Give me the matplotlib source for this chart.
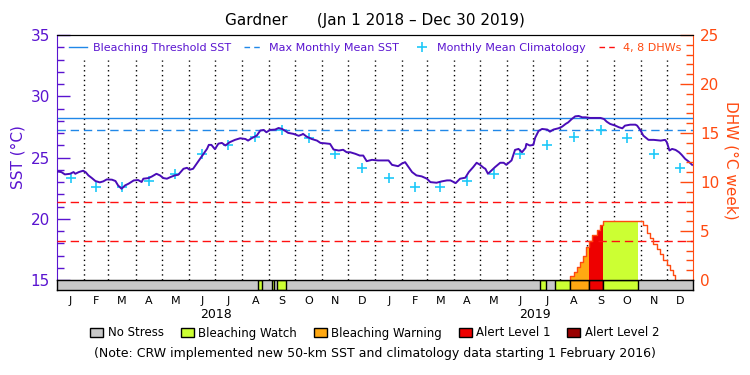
import numpy as np
import matplotlib
matplotlib.use('Agg')
import matplotlib.pyplot as plt
from matplotlib.lines import Line2D
from matplotlib.patches import Patch
from matplotlib.ticker import MultipleLocator

# ---------------- data (days since Jan 1 2018) ----------------
sst_day = [0, 5, 9, 15, 19, 21, 25, 30, 33, 36, 40, 44, 49, 53, 57, 63, 67, 70, 74, 78,
           82, 88, 93, 97, 99, 105, 109, 114, 118, 122, 126, 130, 135, 139, 145, 149, 152, 156, 160, 164,
           168, 172, 174, 177, 181, 185, 189, 193, 198, 204, 210, 216, 219, 223, 229, 233, 237, 240, 244, 250,
           254, 258, 261, 265, 271, 277, 281, 282, 286, 292, 298, 302, 307, 313, 317, 323, 328, 332, 336, 342,
           347, 351, 355, 361, 368, 380, 384, 391, 395, 399, 403, 407, 412, 418, 424, 428, 435, 441, 447, 451,
           457, 462, 468, 472, 477, 481, 485, 489, 491, 494, 498, 502, 508, 512, 515, 521, 525, 529, 533, 537,
           538, 542, 546, 548, 552, 556, 562, 565, 569, 575, 579, 583, 586, 590, 594, 598, 602, 606, 611, 617,
           623, 627, 630, 634, 640, 644, 648, 651, 657, 663, 665, 669, 672, 678, 684, 692, 697, 699, 702, 705,
           709, 713, 716, 720, 724, 728]
sst_val = [23.86, 23.81, 23.62, 23.67, 23.81, 23.67, 23.81, 23.92, 23.79, 23.54, 23.32, 23.08, 22.97, 23.05, 23.21, 23.19, 23.08, 22.72, 22.45, 22.72,
           22.86, 23.13, 23.16, 23.00, 23.27, 23.32, 23.46, 23.67, 23.54, 23.32, 23.27, 23.40, 23.54, 23.59, 24.08, 24.16, 24.00, 24.08, 24.49, 24.89,
           25.30, 25.71, 26.03, 26.03, 25.68, 26.13, 26.19, 25.98, 26.25, 26.44, 26.57, 26.51, 26.38, 26.57, 26.79, 27.20, 27.25, 27.06, 27.25, 27.28,
           27.41, 27.33, 27.20, 27.01, 26.93, 26.77, 26.88, 26.93, 26.71, 26.51, 26.38, 26.19, 26.16, 26.11, 25.65, 25.57, 25.63, 25.43, 25.43, 25.30,
           25.16, 25.16, 24.70, 24.81, 24.76, 24.76, 24.40, 24.29, 24.49, 24.62, 24.21, 23.81, 23.54, 23.46, 23.27, 22.99, 22.94, 23.05, 23.13, 23.13,
           22.91, 23.27, 23.35, 23.81, 24.21, 24.57, 24.40, 24.16, 24.08, 23.67, 23.94, 24.21, 24.57, 24.57, 24.40, 24.76, 25.62, 25.70, 25.43, 25.78,
           26.11, 25.98, 26.03, 26.60, 27.17, 27.33, 27.28, 27.11, 27.28, 27.39, 27.52, 27.74, 27.87, 28.14, 28.36, 28.39, 28.28, 28.28, 28.23, 28.23,
           28.23, 28.14, 27.93, 27.74, 27.60, 27.47, 27.38, 27.60, 27.68, 27.68, 27.60, 27.20, 26.79, 26.44, 26.44, 26.38, 26.44, 26.25, 25.57, 25.70,
           25.62, 25.43, 25.22, 24.89, 24.67, 24.40]

clim_month_val = [23.35, 22.60, 22.60, 23.08, 23.62, 25.27, 25.98, 26.68, 27.25, 26.56, 25.30, 24.16]
mmm_sst = 27.25
threshold_sst = 28.25

dhw_day = [588.0, 588.0, 592.6, 595.7, 599.5, 603.2, 606.3, 610.1, 612.9, 618.6, 622.4, 625.5,
           672.0, 675.9, 679.7, 683.5, 687.4, 691.2, 695.0, 698.9, 702.7, 706.5, 708.4]
dhw_val = [0.0, 0.41, 0.85, 1.29, 1.86, 2.44, 3.39, 4.00, 4.57, 5.15, 5.66, 6.03,
           5.59, 4.84, 4.30, 3.72, 3.15, 2.64, 2.03, 1.52, 1.02, 0.51, 0.0]
dhw_levels = [4, 8]

# stress level: 1 watch, 2 warning, 3 alert 1, 4 alert 2
stress_start = [230.7, 246.1, 252.5, 553.6, 570.8, 588.0, 610.1, 626.0]
stress_end = [234.6, 248.7, 262.1, 560.5, 588.0, 610.1, 626.0, 666.3]
stress_level = [1, 1, 1, 1, 1, 2, 3, 1]

stress_names = ['No Stress', 'Bleaching Watch', 'Bleaching Warning', 'Alert Level 1', 'Alert Level 2']
month_letters = ['J', 'F', 'M', 'A', 'M', 'J', 'J', 'A', 'S', 'O', 'N', 'D']
years = ['2018', '2019']

# ---------------- styling ----------------
PURPLE = '#5a14d0'
LINE_PURPLE = '#4a0cb8'
ORANGE = '#ff4a10'
BLUE = '#2088e8'
CYAN = '#1ec8f8'
DHW_RED = '#ff1010'
stress_colors = ['#c8c8c8', '#ccff33', '#ffa812', '#ee0000', '#990000']
plt.rcParams['font.family'] = ['DejaVu Sans']

W, H = 750, 375
fig = plt.figure(figsize=(7.5, 3.75), dpi=100)
ax = fig.add_axes([57 / W, 95 / H, 636 / W, 245 / H])
ax2 = ax.twinx()
axb = fig.add_axes([57 / W, 85 / H, 636 / W, 10 / H])

xmin, xmax = 0, 729
ax.set_xlim(xmin, xmax)
axb.set_xlim(xmin, xmax)
ax.set_ylim(15, 35)
ax2.set_ylim(0, 25)

# month geometry
start = np.datetime64('2018-01-01')
months = np.arange('2018-01', '2020-02', dtype='datetime64[M]')
bounds = (months.astype('datetime64[D]') - start).astype(int)
mids = (bounds[:-1] + bounds[1:]) / 2.0

# dotted month lines
for b in bounds[1:-1]:
    ax.plot([b, b], [15, 33.0], color='black', lw=1.0, ls=(0, (1, 2.5)), zorder=1)

# horizontal reference lines
ax.axhline(threshold_sst, color=BLUE, lw=1.0, zorder=2)
ax.axhline(mmm_sst, color=BLUE, lw=1.0, ls=(0, (6, 3.5)), zorder=2)
for lv in dhw_levels:
    ax2.axhline(lv, color=DHW_RED, lw=1.0, ls=(0, (6, 3.5)), zorder=2)

# climatology
clim_x = mids
clim_y = clim_month_val * 2
ax.plot(clim_x, clim_y, ls='none', marker='+', ms=7, mew=1.2, color=CYAN, zorder=3)

# SST
ax.plot(sst_day, sst_val, color=LINE_PURPLE, lw=1.4, zorder=4)

# DHW fills per stress segment
dd = np.array(dhw_day)
dv = np.array(dhw_val)


def dhw_at(x):
    i = np.searchsorted(dd, x, side='right') - 1
    return 0.0 if i < 0 else dv[i]


for s, e, lvl in zip(stress_start, stress_end, stress_level):
    xs = [s] + [d for d in dhw_day if s < d < e] + [e]
    ys = [dhw_at(x) for x in xs]
    if max(ys) > 0:
        ax2.fill_between(xs, 0, ys, step='post', color=stress_colors[lvl], lw=0, zorder=1)
ax2.plot(dhw_day, dhw_val, drawstyle='steps-post', color=ORANGE, lw=1.0, zorder=3)

# stress bar
axb.axvspan(xmin, xmax, color=stress_colors[0], lw=0)
for s, e, lvl in zip(stress_start, stress_end, stress_level):
    axb.axvspan(s, e, facecolor=stress_colors[lvl], edgecolor='black', lw=1.0)
axb.set_ylim(0, 1)
axb.set_yticks([])
axb.set_xticks(mids)
axb.set_xticklabels(month_letters * 2, fontsize=8)
axb.tick_params(axis='x', length=0, pad=4)
for sp in axb.spines.values():
    sp.set_linewidth(1.0)
    sp.set_color('black')
for k, y in enumerate(years):
    axb.text((bounds[12 * k] + bounds[12 * k + 12]) / 2, -2.5, y, ha='center', va='center',
             fontsize=9, transform=axb.get_xaxis_transform())

# axes styling
ax.spines['left'].set_color(PURPLE)
ax.spines['right'].set_visible(False)
ax.spines['bottom'].set_visible(False)
ax.spines['top'].set_color('black')
ax2.spines['left'].set_visible(False)
ax2.spines['bottom'].set_visible(False)
ax2.spines['right'].set_color(ORANGE)
ax.tick_params(axis='x', bottom=False, labelbottom=False)
ax.yaxis.set_major_locator(MultipleLocator(5))
ax.yaxis.set_minor_locator(MultipleLocator(1))
ax.tick_params(axis='y', which='major', direction='in', length=9.5, width=1, colors=PURPLE,
               labelsize=11, pad=5)
ax.tick_params(axis='y', which='minor', direction='in', length=5, width=1, colors=PURPLE)
ax2.yaxis.set_major_locator(MultipleLocator(5))
ax2.yaxis.set_minor_locator(MultipleLocator(1))
ax2.tick_params(axis='y', which='major', direction='in', length=9.5, width=1, colors=ORANGE,
                labelsize=11, pad=5)
ax2.tick_params(axis='y', which='minor', direction='in', length=5, width=1, colors=ORANGE)

# top legend
handles = [Line2D([], [], color=BLUE, lw=1.0),
           Line2D([], [], color=BLUE, lw=1.0, ls=(0, (4, 3))),
           Line2D([], [], color=CYAN, ls='none', marker='+', ms=7, mew=1.2),
           Line2D([], [], color=DHW_RED, lw=1.0, ls=(0, (4, 3)))]
labels = ['Bleaching Threshold SST', 'Max Monthly Mean SST', 'Monthly Mean Climatology', '4, 8 DHWs']
leg = ax2.legend(handles, labels, loc='upper center', bbox_to_anchor=(0.5, 1.0), ncol=4,
                 frameon=False, fontsize=8, handlelength=1.7, handletextpad=0.5,
                 columnspacing=1.2, borderaxespad=0.35)
for t, c in zip(leg.get_texts(), [PURPLE, PURPLE, PURPLE, ORANGE]):
    t.set_color(c)

# titles and labels
fig.text(0.5, (H - 20) / H, 'Gardner      (Jan 1 2018 \u2013 Dec 30 2019)', ha='center', va='center',
         fontsize=11)
fig.text(18 / W, (H - 157) / H, 'SST (\u00b0C)', rotation=90, ha='center', va='center', fontsize=11,
         color=PURPLE)
fig.text(731 / W, (H - 160) / H, 'DHW (\u00b0C week)', rotation=270, ha='center', va='center',
         fontsize=11, color=ORANGE)

# bottom legend
patches = [Patch(facecolor=c, edgecolor='black', lw=1.0) for c in stress_colors]
fig.legend(patches, stress_names, loc='center', bbox_to_anchor=(0.5, (H - 333) / H), ncol=5,
           frameon=False, fontsize=8.5, handlelength=1.1, handleheight=0.9, handletextpad=0.4,
           columnspacing=1.4)
fig.text(0.5, (H - 354) / H,
         '(Note: CRW implemented new 50-km SST and climatology data starting 1 February 2016)',
         ha='center', va='center', fontsize=9)

fig.savefig('out.png', dpi=100)
